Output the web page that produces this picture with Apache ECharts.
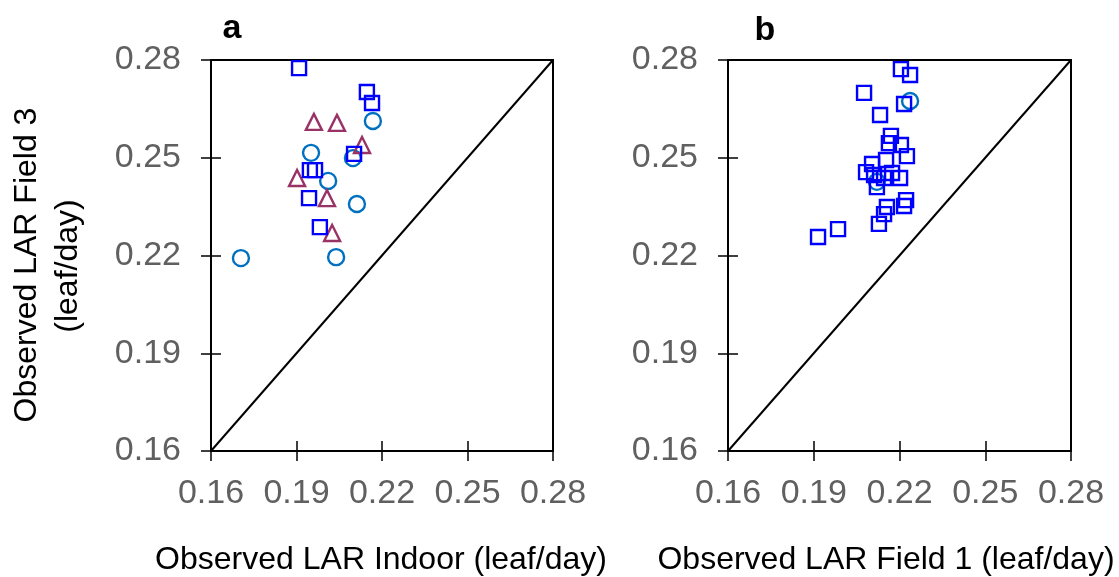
<!DOCTYPE html>
<html><head><meta charset="utf-8">
<script src="https://cdn.jsdelivr.net/npm/echarts@6/dist/echarts.min.js"></script>
<style>html,body{margin:0;padding:0;background:#fff}#c{width:1119px;height:577px}</style>
</head><body><div id="c"></div>
<script>
// Axis range / ticks (both panels)
const axisMin = 0.16, axisMax = 0.28, axisStep = 0.03;
const tickLabels = ['0.16','0.19','0.22','0.25','0.28'];

// Panel a: x = Observed LAR Indoor, y = Observed LAR Field 3
const aSquares = [[0.1909,0.2775],[0.2147,0.2702],[0.2165,0.2668],[0.2102,0.2512],[0.1947,0.2462],[0.1965,0.2462],[0.1944,0.2376],[0.1982,0.2287]];
const aCircles = [[0.1951,0.2515],[0.2168,0.2613],[0.2098,0.2499],[0.2011,0.2429],[0.2112,0.2358],[0.1705,0.2192],[0.2039,0.2195]];
const aTriangles = [[0.1961,0.2610],[0.2042,0.2607],[0.2130,0.2539],[0.1902,0.2438],[0.2007,0.2376],[0.2025,0.2269]];

// Panel b: x = Observed LAR Field 1, y = Observed LAR Field 3
const bSquares = [[0.2205,0.2772],[0.2237,0.2754],[0.2076,0.2699],[0.2216,0.2665],[0.2132,0.2631],[0.2170,0.2567],[0.2163,0.2545],[0.2205,0.2539],[0.2226,0.2505],[0.2153,0.2493],[0.2104,0.2481],[0.2083,0.2456],[0.2111,0.2447],[0.2174,0.2453],[0.2202,0.2438],[0.2121,0.2410],[0.2146,0.2438],[0.2223,0.2370],[0.2216,0.2352],[0.2156,0.2349],[0.2146,0.2327],[0.2128,0.2297],[0.1985,0.2281],[0.1915,0.2257]];
const bCircles = [[0.2237,0.2674],[0.2121,0.2426]];

// 1:1 line
const oneToOne = [[0.16,0.16],[0.28,0.28]];

const chart = echarts.init(document.getElementById('c'), null, {renderer:'canvas'});
const FONT = 'Liberation Sans, Arial, sans-serif';
const fmt = v => { const i = Math.round((v - axisMin)/axisStep); return tickLabels[i] !== undefined ? tickLabels[i] : ''; };

function mainX(grid){ return {gridIndex:grid, type:'value', position:'bottom', min:axisMin, max:axisMax, interval:axisStep,
  axisLine:{show:true, onZero:false, lineStyle:{color:'#000', width:2}},
  axisTick:{show:true, inside:false, length:10, lineStyle:{color:'#000', width:1.5}},
  axisLabel:{show:true, formatter:fmt, fontSize:34, color:'#606060', fontFamily:FONT, margin:26},
  splitLine:{show:false}}; }
function innerX(grid){ return {gridIndex:grid, type:'value', position:'bottom', min:axisMin, max:axisMax, interval:axisStep,
  axisLine:{show:false, onZero:false},
  axisTick:{show:true, inside:true, length:10, lineStyle:{color:'#000', width:1.5}},
  axisLabel:{show:false}, splitLine:{show:false}}; }
function mainY(grid){ return {gridIndex:grid, type:'value', position:'left', min:axisMin, max:axisMax, interval:axisStep,
  axisLine:{show:true, onZero:false, lineStyle:{color:'#000', width:2}},
  axisTick:{show:true, inside:false, length:10, lineStyle:{color:'#000', width:1.5}},
  axisLabel:{show:true, formatter:fmt, fontSize:34, color:'#606060', fontFamily:FONT, margin:30},
  splitLine:{show:false}}; }
function innerY(grid){ return {gridIndex:grid, type:'value', position:'left', min:axisMin, max:axisMax, interval:axisStep,
  axisLine:{show:false, onZero:false},
  axisTick:{show:true, inside:true, length:10, lineStyle:{color:'#000', width:1.5}},
  axisLabel:{show:false}, splitLine:{show:false}}; }

function scat(data, xi, symbol, size, color){
  return {type:'scatter', xAxisIndex:xi, yAxisIndex:xi, data:data, symbol:symbol, symbolSize:size,
    itemStyle:{color:'rgba(0,0,0,0)', borderColor:color, borderWidth:2.4, opacity:1}, emphasis:{disabled:true}, z:3};
}
function diag(xi){
  return {type:'line', xAxisIndex:xi, yAxisIndex:xi, data:oneToOne, showSymbol:false, symbol:'none',
    lineStyle:{color:'#000', width:2}, z:2, silent:true};
}

function txt(x, y, text, size, opts){
  opts = opts || {};
  return {type:'text', x:x, y:y, rotation:opts.rot||0, silent:true,
    style:{text:text, fill:opts.color||'#000', font:(opts.bold?'bold ':'')+size+'px '+FONT,
      textAlign:'center', align:'center', textVerticalAlign:'middle', verticalAlign:'middle'}};
}

chart.setOption({
  animation:false,
  backgroundColor:'#fff',
  grid:[
    {left:211, top:60, width:342, height:391, show:true, borderColor:'#000', borderWidth:2, backgroundColor:'transparent'},
    {left:728, top:60, width:343, height:391, show:true, borderColor:'#000', borderWidth:2, backgroundColor:'transparent'}
  ],
  xAxis:[mainX(0), mainX(1), innerX(0), innerX(1)],
  yAxis:[mainY(0), mainY(1), innerY(0), innerY(1)],
  series:[
    diag(0),
    scat(aCircles, 0, 'circle', 16, '#0070C0'),
    scat(aTriangles, 0, 'triangle', 16, '#993366'),
    scat(aSquares, 0, 'rect', 14, '#0000FF'),
    diag(1),
    scat(bCircles, 1, 'circle', 16, '#0070C0'),
    scat(bSquares, 1, 'rect', 14, '#0000FF'),
    {type:'scatter', xAxisIndex:2, yAxisIndex:2, data:[], silent:true},
    {type:'scatter', xAxisIndex:3, yAxisIndex:3, data:[], silent:true}
  ],
  graphic:[
    txt(27, 265, 'Observed LAR Field 3', 32, {rot:Math.PI/2}),
    txt(68, 266, '(leaf/day)', 32, {rot:Math.PI/2}),
    txt(381, 560, 'Observed LAR Indoor (leaf/day)', 32),
    txt(886, 560, 'Observed LAR Field 1 (leaf/day)', 32),
    txt(232, 29, 'a', 34, {bold:true}),
    txt(765, 31, 'b', 34, {bold:true})
  ]
});
</script></body></html>
